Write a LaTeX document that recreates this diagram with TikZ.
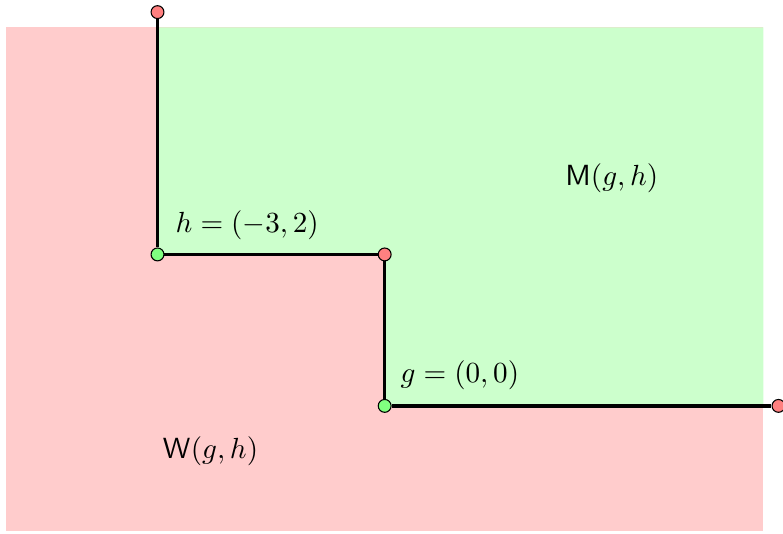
\documentclass[tikz,border=0pt]{standalone}
\usepackage{amsmath, amssymb}
\usepackage{tikz}
\usetikzlibrary{positioning}

\begin{document}
\begin{tikzpicture}[
    region/.style={draw=none},
    pt/.style={circle, draw, thin, inner sep=0pt, minimum size=0.17cm},
    redpt/.style={pt, fill=red!50},
    greenpt/.style={pt, fill=green!50},
    wall/.style={line width=1.3pt},
    tag/.style={font=\fontsize{10.5}{12.6}\selectfont}
]
    \useasboundingbox (-5.08,-1.68) rectangle (5.26,5.36);

    % Regions
    \fill[region, red!20] (-5,-1.65) rectangle (5,5);
    \fill[region, green!20] (-3,5) -- (5,5) -- (5,0) -- (0,0) -- (0,2) -- (-3,2) -- cycle;

    % Points
    \node[redpt] (top) at (-3,5.2) {};
    \node[greenpt] (h) at (-3,2) {};
    \node[redpt] (corner) at (0,2) {};
    \node[greenpt] (g) at (0,0) {};
    \node[redpt] (right) at (5.2,0) {};

    % Boundary
    \draw[wall] (top) -- (h) -- (corner) -- (g) -- (right);

    % Labels
    \node[tag, above right=0.01cm and 0.05cm of h] (hlabel) {$h=(-3,2)$};
    \node[tag, above right=0.02cm and 0.02cm of g] (glabel) {$g=(0,0)$};
    \node[tag] (mlabel) at (3,3) {$\mathsf{M}(g,h)$};
    \node[tag] (wlabel) at (-2.3,-0.6) {$\mathsf{W}(g,h)$};
\end{tikzpicture}
\end{document}
